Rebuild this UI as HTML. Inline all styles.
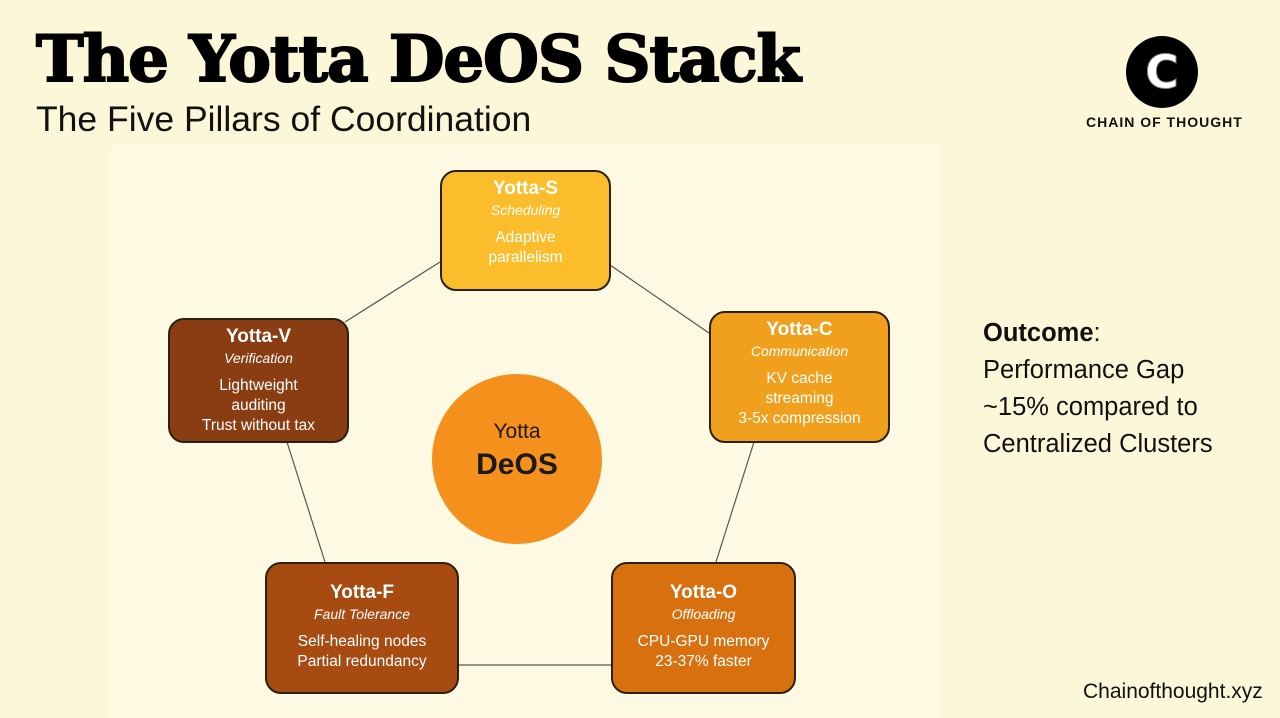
<!DOCTYPE html>
<html><head><meta charset="utf-8"><style>
body{margin:0;width:1280px;height:718px;background:#fdf7da;position:relative;overflow:hidden;font-family:"Liberation Sans",sans-serif}
.t{position:absolute;left:36px;top:22px;font-family:"DejaVu Serif",serif;font-weight:900;font-size:64px;letter-spacing:-1px;color:#000;-webkit-text-stroke:2px #000;white-space:nowrap}
.st{position:absolute;left:36px;top:99px;font-size:35.5px;color:#111}
.panel{position:absolute;left:110px;top:145px;width:830px;height:573px;background:#fdf9e2}
.b{position:absolute;border:2px solid #2a2116;border-radius:16px;color:#fff;text-align:center;box-sizing:border-box}
.b h{display:block;font-weight:bold;font-size:19px;margin-top:6px}
.b i{display:block;font-size:14px;margin-top:2px;margin-bottom:10px}
.b p{margin:0;font-size:15.5px;line-height:20px}
.circ{position:absolute;left:432px;top:374px;width:170px;height:170px;border-radius:50%;background:#f5901c;text-align:center;color:#1a1a1a}
.out{position:absolute;left:983px;top:315px;font-size:25.5px;line-height:37px;color:#111}
</style></head><body>
<div class="t">The Yotta DeOS Stack</div>
<div class="st">The Five Pillars of Coordination</div>
<div class="panel"></div>
<svg style="position:absolute;left:0;top:0" width="1280" height="718">
<g stroke="#555" stroke-width="1.2">
<line x1="440" y1="262" x2="345" y2="322"/>
<line x1="610" y1="265" x2="709" y2="333"/>
<line x1="287" y1="442" x2="325" y2="562"/>
<line x1="754" y1="442" x2="716" y2="562"/>
<line x1="458" y1="665" x2="611" y2="665"/>
</g>
<circle cx="1162" cy="72" r="36" fill="#000"/>
<text x="1162" y="88" text-anchor="middle" font-family="DejaVu Sans" font-weight="bold" font-size="46" fill="#fff" stroke="#888" stroke-width="1">C</text>
</svg>
<div style="position:absolute;left:1086px;top:114px;font-weight:bold;font-size:14px;letter-spacing:1px;color:#111">CHAIN OF THOUGHT</div>
<div class="b" style="left:440px;top:170px;width:171px;height:121px;background:#fbbd2b"><h>Yotta-S</h><i>Scheduling</i><p>Adaptive<br>parallelism</p></div>
<div class="b" style="left:168px;top:318px;width:181px;height:125px;background:#8a3d12"><h>Yotta-V</h><i>Verification</i><p>Lightweight<br>auditing<br>Trust without tax</p></div>
<div class="b" style="left:709px;top:311px;width:181px;height:132px;background:#f0a01c"><h>Yotta-C</h><i>Communication</i><p>KV cache<br>streaming<br>3-5x compression</p></div>
<div class="b" style="left:265px;top:562px;width:194px;height:132px;background:#a84b12"><h style="margin-top:18px">Yotta-F</h><i>Fault Tolerance</i><p>Self-healing nodes<br>Partial redundancy</p></div>
<div class="b" style="left:611px;top:562px;width:185px;height:132px;background:#d8700f"><h style="margin-top:18px">Yotta-O</h><i>Offloading</i><p>CPU-GPU memory<br>23-37% faster</p></div>
<div class="circ"><div style="font-size:21px;margin-top:46px">Yotta</div><div style="font-size:30px;font-weight:bold;margin-top:4px">DeOS</div></div>
<div class="out"><b>Outcome</b>:<br>Performance Gap<br>~15% compared to<br>Centralized Clusters</div>
<div style="position:absolute;left:1083px;top:680px;font-size:21px;color:#111">Chainofthought.xyz</div>
</body></html>
